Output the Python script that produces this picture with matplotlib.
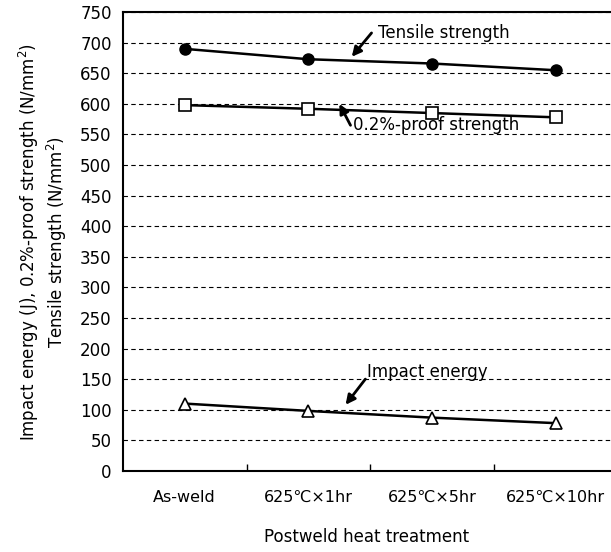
import matplotlib.pyplot as plt

treatments = ["As-weld", "625\u2103\u00d71hr", "625\u2103\u00d75hr", "625\u2103\u00d710hr"]
tensile = [690, 673, 666, 655]
proof = [598, 592, 585, 578]
impact = [110, 98, 87, 78]
y_ticks = list(range(0, 751, 50))

plt.rcParams["font.family"] = ["DejaVu Sans", "Noto Sans CJK JP"]

fig = plt.figure(figsize=(6.11, 5.52), dpi=100)
ax = fig.add_axes([0.201, 0.147, 0.799, 0.831])

x = list(range(len(treatments)))
ax.plot(x, tensile, color="black", lw=1.8, marker="o", ms=8,
        mfc="black", mec="black", zorder=3)
ax.plot(x, proof, color="black", lw=1.8, marker="s", ms=9,
        mfc="white", mec="black", mew=1.2, zorder=3)
ax.plot(x, impact, color="black", lw=1.8, marker="^", ms=9,
        mfc="white", mec="black", mew=1.2, zorder=3)

ax.set_xlim(-0.5, 3.445)
ax.set_ylim(0, 750)
ax.set_yticks(y_ticks)
ax.yaxis.grid(True, linestyle=(0, (4, 3)), color="black", lw=0.8)
ax.set_axisbelow(True)

ax.set_xticks(x)
ax.set_xticklabels(treatments, fontsize=11.5)
ax.tick_params(axis="x", length=0, pad=14)
ax.set_xticks([0.5, 1.5, 2.5], minor=True)
ax.tick_params(axis="x", which="minor", direction="in", length=5, width=1)
ax.tick_params(axis="y", length=0, labelsize=12, pad=8)

for s in ["left", "bottom", "top"]:
    ax.spines[s].set_linewidth(1.5)
ax.spines["right"].set_visible(False)

ax.set_xlabel("Postweld heat treatment", fontsize=12, labelpad=16)
ax.set_ylabel("Impact energy (J), 0.2%-proof strength (N/mm$^2$)\n"
              "Tensile strength (N/mm$^2$)", fontsize=12, labelpad=8)

# arrows and labels pointing at the curves
arrow = dict(arrowstyle="-|>", color="black", lw=2, mutation_scale=14,
             shrinkA=0, shrinkB=0)
ax.annotate("", xy=(1.35, 677), xytext=(1.51, 716), arrowprops=arrow)
ax.text(1.56, 708, "Tensile strength", fontsize=12, va="baseline")
ax.annotate("", xy=(1.25, 600), xytext=(1.34, 565), arrowprops=arrow)
ax.text(1.36, 565, "0.2%-proof strength", fontsize=12, va="center")
ax.annotate("", xy=(1.30, 108), xytext=(1.46, 150), arrowprops=arrow)
ax.text(1.47, 162, "Impact energy", fontsize=12, va="center")

fig.savefig("out.png", dpi=100)
